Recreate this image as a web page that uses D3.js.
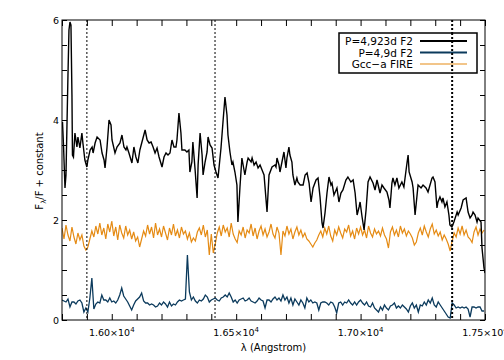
<!DOCTYPE html>
<html>
<head>
<meta charset="utf-8">
<script src="https://cdn.jsdelivr.net/npm/d3@7"></script>
<style>
  body { margin: 0; background: #fff; }
  text { font-family: "DejaVu Sans", Verdana, sans-serif; fill: #000; }
</style>
</head>
<body>
<svg id="chart" width="504" height="360"></svg>
<script>
// spectra

// P=4.923d F2 (black), irregular sampling as traced
var blackLam = [15802,15806,15812,15816,15824,15828,15832,15836,15840,15842,15846,15852,15860,15864,15872,15880,15884,15892,15900,15904,
  15913,15921,15925,15933,15941,15953,15961,15969,15973,15981,15989,15997,16001,16013,16021,16033,16041,16049,16057,16061,
  16069,16081,16089,16097,16105,16113,16134,16142,16150,16158,16166,16174,16182,16190,16202,16210,16218,16226,16234,16242,
  16250,16258,16262,16270,16278,16282,16294,16302,16310,16314,16322,16326,16335,16343,16347,16355,16363,16367,16375,16383,
  16387,16395,16403,16411,16419,16427,16439,16447,16455,16463,16467,16475,16483,16487,16495,16503,16507,16515,16523,16535,
  16544,16548,16560,16564,16572,16580,16588,16596,16604,16612,16624,16632,16644,16656,16660,16664,16672,16676,16684,16692,
  16700,16704,16712,16716,16724,16728,16736,16744,16748,16757,16769,16777,16785,16793,16801,16809,16821,16829,16837,16845,
  16849,16857,16865,16873,16881,16885,16893,16905,16913,16921,16929,16941,16949,16961,16970,16978,16986,16994,16998,17006,
  17014,17022,17030,17038,17050,17058,17066,17078,17086,17094,17106,17114,17118,17126,17130,17138,17146,17154,17166,17174,
  17187,17191,17195,17207,17211,17219,17227,17231,17243,17251,17263,17271,17287,17291,17299,17307,17311,17319,17327,17331,
  17339,17347,17355,17359,17367,17375,17388,17392,17404,17412,17424,17432,17440,17448,17452,17460,17468,17472,17484,17488,
  17496,17500];
var blackFlux = [3.96,3.50,2.64,2.90,4.90,5.80,5.96,5.90,4.50,3.30,3.26,3.74,3.46,3.66,3.44,3.74,3.54,3.20,3.06,3.20,
  3.40,3.46,3.34,3.54,3.66,3.60,3.34,3.20,3.04,3.46,4.00,3.90,3.60,3.34,3.46,3.54,3.70,3.46,3.40,3.46,
  3.34,3.14,3.46,3.26,3.14,3.40,3.80,3.60,3.54,3.56,3.46,3.34,3.44,3.26,3.06,3.26,3.34,3.30,3.34,3.60,
  3.46,3.46,3.60,4.14,3.74,3.40,3.40,3.36,3.40,2.96,3.16,3.56,3.00,2.44,3.10,3.74,3.30,2.90,3.16,3.36,
  3.66,3.50,3.44,3.10,2.96,2.84,3.44,3.96,4.46,4.10,3.70,3.36,3.10,3.16,2.96,2.70,1.96,2.64,3.24,2.90,
  3.16,3.24,3.16,3.24,3.10,3.16,3.04,3.10,3.00,2.90,2.16,2.90,3.06,3.10,3.06,3.24,3.10,2.96,3.16,3.36,
  3.04,3.24,3.46,3.30,3.16,2.90,2.70,2.84,2.76,2.70,2.70,2.90,2.94,2.74,2.36,2.64,2.80,2.84,2.46,1.94,
  1.84,2.14,2.54,2.86,2.70,2.74,2.50,2.64,2.36,2.54,2.60,2.80,2.86,2.76,2.80,2.54,2.10,2.26,2.36,2.06,
  1.80,2.20,2.76,2.86,2.74,2.60,2.80,2.54,2.70,2.64,2.56,2.40,2.24,2.74,2.84,2.70,2.84,2.64,2.76,2.66,
  3.16,3.30,2.96,2.76,2.64,2.10,2.50,2.70,2.64,2.70,2.64,2.56,2.84,2.86,2.76,2.24,2.36,2.46,2.36,2.44,
  2.26,2.36,2.10,1.90,1.86,1.96,2.16,2.10,2.24,2.40,2.44,2.16,2.04,2.10,2.16,2.10,1.96,2.04,1.96,1.44,
  1.04,0.94];

// P=4.9d F2 (blue), 8 A sampling from 15800
var blueStart = 15800, blueStep = 8;
var blueFlux = [0.40,0.38,0.36,0.42,0.26,0.36,0.36,0.32,0.38,0.40,
  0.34,0.16,0.24,0.16,0.44,0.84,0.22,0.32,0.36,0.34,
  0.50,0.40,0.40,0.36,0.44,0.36,0.38,0.34,0.40,0.50,
  0.64,0.48,0.42,0.36,0.28,0.20,0.30,0.38,0.42,0.46,
  0.54,0.38,0.34,0.34,0.30,0.32,0.30,0.26,0.28,0.34,
  0.30,0.36,0.32,0.26,0.36,0.28,0.32,0.30,0.36,0.40,
  0.38,0.40,0.42,1.30,0.56,0.40,0.46,0.38,0.34,0.40,
  0.38,0.42,0.50,0.46,0.36,0.40,0.42,0.44,0.40,0.38,
  0.44,0.46,0.50,0.46,0.54,0.46,0.36,0.40,0.34,0.40,
  0.42,0.44,0.38,0.40,0.44,0.38,0.36,0.34,0.38,0.44,
  0.40,0.38,0.24,0.40,0.40,0.36,0.42,0.46,0.40,0.44,
  0.38,0.50,0.40,0.46,0.34,0.44,0.30,0.42,0.36,0.30,
  0.40,0.34,0.24,0.44,0.36,0.40,0.34,0.36,0.34,0.20,
  0.34,0.36,0.36,0.34,0.30,0.36,0.34,0.26,0.14,0.34,
  0.36,0.30,0.36,0.34,0.40,0.34,0.30,0.36,0.30,0.36,
  0.40,0.34,0.30,0.36,0.28,0.26,0.34,0.24,0.20,0.16,
  0.26,0.20,0.30,0.24,0.20,0.28,0.30,0.34,0.24,0.28,
  0.24,0.30,0.26,0.22,0.16,0.28,0.34,0.24,0.30,0.16,
  0.30,0.28,0.36,0.30,0.40,0.34,0.44,0.30,0.26,0.36,
  0.30,0.24,0.18,0.12,0.06,0.04,0.34,0.30,0.24,0.26,
  0.24,0.26,0.24,0.26,0.22,0.06,0.26,0.26,0.24,0.26,
  0.26,0.18,0.18];

// Gcc-a FIRE (orange), 8 A sampling from 15800
var orangeStart = 15800, orangeStep = 8;
var orangeFlux = [1.84,1.62,1.90,1.70,1.58,1.86,1.66,1.52,1.74,1.60,
  1.70,1.48,1.40,1.46,1.62,1.78,1.66,1.88,1.72,1.94,
  1.70,1.84,1.62,1.92,1.76,1.98,1.68,1.86,1.60,1.90,
  1.74,1.64,1.88,1.70,1.80,1.62,1.76,1.58,1.66,1.46,
  1.62,1.78,1.68,1.90,1.72,1.86,1.64,1.94,1.70,1.82,
  1.66,1.88,1.74,1.60,1.84,1.70,1.92,1.68,1.80,1.64,
  1.86,1.72,1.78,1.62,1.74,1.56,1.64,1.58,1.76,1.84,
  1.70,1.90,1.66,1.80,1.30,1.72,1.34,1.52,1.74,1.86,
  1.68,1.90,1.76,1.84,1.66,1.94,1.72,1.62,1.55,1.78,
  1.70,1.86,1.64,1.80,1.74,1.92,1.68,1.84,1.62,1.78,
  1.88,1.70,1.82,1.66,1.76,1.92,1.72,1.64,1.86,1.74,
  1.30,1.78,1.68,1.88,1.72,1.82,1.62,1.76,1.86,1.70,
  1.80,1.66,1.74,1.62,1.58,1.52,1.46,1.54,1.60,1.70,
  1.78,1.66,1.84,1.72,1.88,1.68,1.58,1.80,1.70,1.86,
  1.74,1.64,1.82,1.76,1.90,1.68,1.78,1.62,1.84,1.72,
  1.86,1.70,1.80,1.64,1.88,1.74,1.66,1.82,1.72,1.78,
  1.68,1.84,1.70,1.62,1.44,1.76,1.86,1.70,1.80,1.66,
  1.88,1.74,1.82,1.68,1.78,1.72,1.64,1.50,1.56,1.74,
  1.84,1.70,1.88,1.76,1.66,1.82,1.92,1.72,1.80,1.68,
  1.76,1.60,1.70,1.62,1.52,1.38,1.58,1.74,1.66,1.84,
  1.72,1.88,1.70,1.80,1.66,1.62,1.55,1.76,1.86,1.70,
  1.82,1.74,1.80];

// dotted reference lines (Angstrom)
var markLam = [15900, 16415, 17368];
var markWidth = [1, 1, 2];

var xTickMajor = [16000, 16500, 17000, 17500];
var xTickLabels = ["1.60", "1.65", "1.70", "1.75"];
var yTickMajor = [0, 2, 4, 6];

var legendNames = ["P=4,923d F2", "P=4,9d F2", "Gcc\u2212a FIRE"];
var legendColors = ["#000000", "#0b3a5c", "#e58b14"];
var legendWidths = [2, 2, 1];

var svg = d3.select("#chart");
var pL = 62, pR = 485, pT = 20, pB = 320;

var x = d3.scaleLinear().domain([15800, 17500]).range([pL, pR]);
var y = d3.scaleLinear().domain([0, 6]).range([pB, pT]);

svg.append("clipPath").attr("id", "clip")
  .append("rect").attr("x", pL).attr("y", pT).attr("width", pR - pL).attr("height", pB - pT);

var line = d3.line().x(function(d) { return x(d[0]); }).y(function(d) { return y(d[1]); });

var orangeData = orangeFlux.map(function(v, i) { return [orangeStart + i * orangeStep, v]; });
var blueData = blueFlux.map(function(v, i) { return [blueStart + i * blueStep, v]; });
var blackData = blackFlux.map(function(v, i) { return [blackLam[i], v]; });

var plot = svg.append("g").attr("clip-path", "url(#clip)");
plot.append("path").datum(orangeData).attr("d", line)
  .attr("fill", "none").attr("stroke", legendColors[2]).attr("stroke-width", 1.2);
plot.append("path").datum(blueData).attr("d", line)
  .attr("fill", "none").attr("stroke", legendColors[1]).attr("stroke-width", 1.3);
plot.append("path").datum(blackData).attr("d", line)
  .attr("fill", "none").attr("stroke", legendColors[0]).attr("stroke-width", 1.4);

// dotted lines
plot.selectAll(".mark").data(markLam).enter().append("line")
  .attr("x1", function(d) { return x(d); }).attr("x2", function(d) { return x(d); })
  .attr("y1", pT).attr("y2", pB)
  .attr("stroke", "#000")
  .attr("stroke-width", function(d, i) { return markWidth[i]; })
  .attr("stroke-dasharray", "2,2");

// axes: ticks inward on all four sides
var xAxisB = d3.axisBottom(x).tickValues(d3.range(15800, 17501, 100)).tickSizeInner(-6).tickSizeOuter(0).tickFormat("");
var xAxisT = d3.axisTop(x).tickValues(d3.range(15800, 17501, 100)).tickSizeInner(-6).tickSizeOuter(0).tickFormat("");
var yAxisL = d3.axisLeft(y).tickValues(d3.range(0, 6.01, 0.5)).tickSizeInner(-5).tickSizeOuter(0).tickFormat("");
var yAxisR = d3.axisRight(y).tickValues(d3.range(0, 6.01, 0.5)).tickSizeInner(-5).tickSizeOuter(0).tickFormat("");

svg.append("g").attr("transform", "translate(0," + pB + ")").call(xAxisB);
svg.append("g").attr("transform", "translate(0," + pT + ")").call(xAxisT);
svg.append("g").attr("transform", "translate(" + pL + ",0)").call(yAxisL);
svg.append("g").attr("transform", "translate(" + pR + ",0)").call(yAxisR);
svg.selectAll(".domain").remove();
svg.selectAll(".tick line").attr("stroke", "#000");

svg.append("rect").attr("x", pL).attr("y", pT).attr("width", pR - pL).attr("height", pB - pT)
  .attr("fill", "none").attr("stroke", "#000").attr("stroke-width", 1);

// tick labels
var xl = svg.selectAll(".xlab").data(xTickMajor).enter().append("text")
  .attr("x", function(d) { return x(d); }).attr("y", 336)
  .attr("text-anchor", "middle").style("font-size", "9.5px");
xl.append("tspan").text(function(d, i) { return xTickLabels[i] + "\u00d710"; });
xl.append("tspan").attr("dy", -4).style("font-size", "7px").text("4");

svg.selectAll(".ylab").data(yTickMajor).enter().append("text")
  .attr("x", 59).attr("y", function(d) { return y(d) + 4; })
  .attr("text-anchor", "end").style("font-size", "9.5px").text(function(d) { return d; });

// axis titles
svg.append("text").attr("x", (pL + pR) / 2).attr("y", 351)
  .attr("text-anchor", "middle").style("font-size", "10px").text("\u03bb (Angstrom)");

var yt = svg.append("text").attr("transform", "translate(43,171) rotate(-90)")
  .attr("text-anchor", "middle").style("font-size", "10px");
yt.append("tspan").text("F");
yt.append("tspan").attr("dy", 3).style("font-size", "7px").text("\u03bb");
yt.append("tspan").attr("dy", -3).text("/F + constant");

// legend
var lg = svg.append("g");
lg.append("rect").attr("x", 339).attr("y", 33).attr("width", 138).attr("height", 40)
  .attr("fill", "#fff").attr("stroke", "#000").attr("stroke-width", 1.5);
legendNames.forEach(function(name, i) {
  var ly = 41 + i * 11.5;
  lg.append("text").attr("x", 413).attr("y", ly + 4).attr("text-anchor", "end")
    .style("font-size", "10.5px").text(name);
  lg.append("line").attr("x1", 420).attr("x2", 467).attr("y1", ly).attr("y2", ly)
    .attr("stroke", legendColors[i]).attr("stroke-width", legendWidths[i]);
});
// the last dotted line runs through the legend box in the reference
svg.append("line").attr("x1", x(markLam[2])).attr("x2", x(markLam[2])).attr("y1", 33).attr("y2", 73)
  .attr("stroke", "#000").attr("stroke-width", 2).attr("stroke-dasharray", "2,2");
</script>
</body>
</html>
